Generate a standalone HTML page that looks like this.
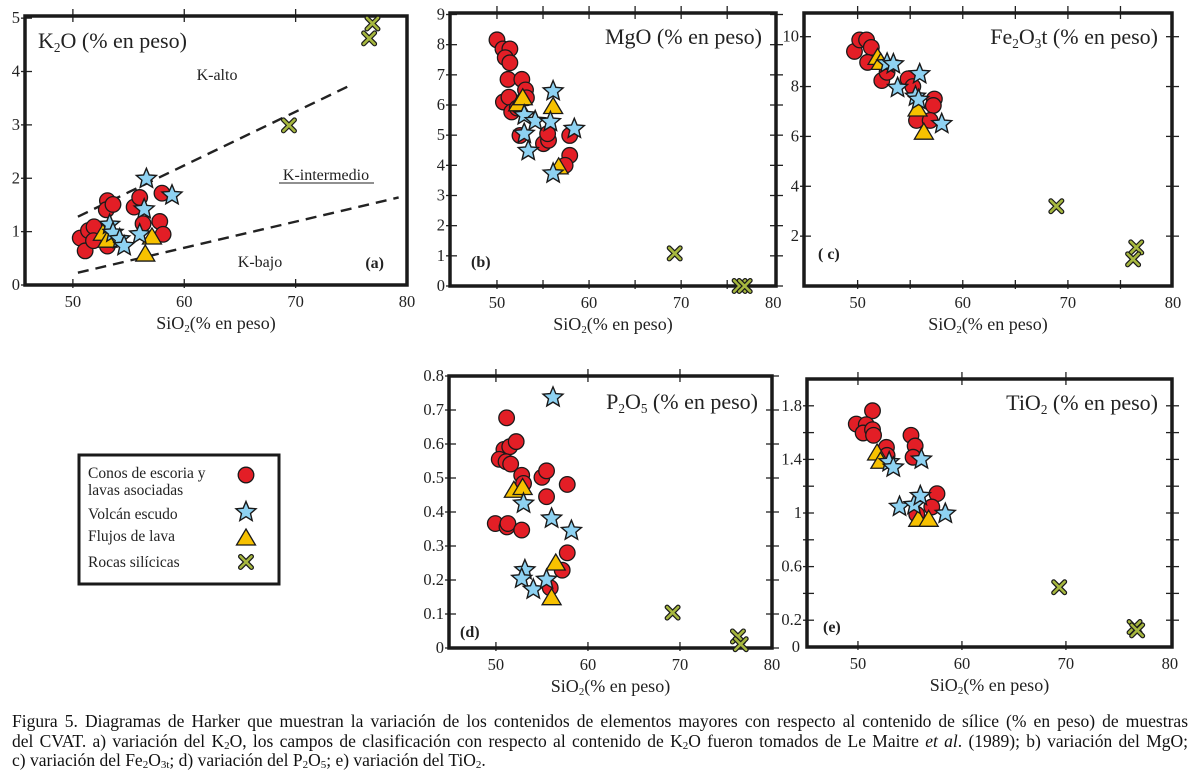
<!DOCTYPE html>
<html><head><meta charset="utf-8">
<style>
html,body{margin:0;padding:0;background:#fff;}
body{width:1196px;height:783px;overflow:hidden;position:relative;font-family:"Liberation Serif",serif;}
#cap{position:absolute;left:12px;top:712px;width:1176px;font-size:17.5px;line-height:19.5px;color:#111;}
#cap div{white-space:nowrap;}
#cap .j{text-align:justify;text-align-last:justify;white-space:normal;}
sub{font-size:11px;vertical-align:-2px;line-height:0;}
</style></head><body>
<svg id="fig" width="1196" height="710" style="position:absolute;left:0;top:0" xmlns="http://www.w3.org/2000/svg" font-family="Liberation Serif, serif"></svg>
<div id="cap">
<div class="j">Figura 5. Diagramas de Harker que muestran la variación de los contenidos de elementos mayores con respecto al contenido de sílice (% en peso) de muestras</div>
<div class="j">del CVAT. a) variación del K<sub>2</sub>O, los campos de clasificación con respecto al contenido de K<sub>2</sub>O fueron tomados de Le Maitre <i>et al</i>. (1989); b) variación del MgO;</div>
<div>c) variación del Fe<sub>2</sub>O<sub>3t</sub>; d) variación del P<sub>2</sub>O<sub>5</sub>; e) variación del TiO<sub>2</sub>.</div>
</div>
<script>
// ---- Panel (a) K2O
const aCircX=[50.66,51.1,51.4,51.9,51.85,53.1,53.0,53.6,53.1,55.5,56.0,56.3,58.0,57.8,58.1];
const aCircY=[0.88,0.64,1.02,1.09,0.83,1.58,1.41,1.51,0.73,1.46,1.64,1.15,1.72,1.19,0.95];
const aStarX=[56.6,58.9,56.4,53.3,53.6,54.2,54.6,56.0];
const aStarY=[1.99,1.68,1.42,1.13,0.98,0.86,0.73,0.95];
const aTriX=[52.7,53.1,57.1,56.5];
const aTriY=[0.97,0.84,0.9,0.58];
const aCrossX=[76.9,76.6,69.4];
const aCrossY=[4.9,4.62,2.99];
const aUpperLineX=[50.45,74.8], aUpperLineY=[1.28,3.73];
const aLowerLineX=[50.45,79.25], aLowerLineY=[0.23,1.64];
const aYTicks=[0,1,2,3,4,5];
// ---- Panel (b) MgO
const bCircX=[50.0,50.65,51.4,50.9,51.4,51.2,52.7,53.1,53.2,50.7,51.3,51.6,52.5,55.05,55.6,55.5,57.9,57.9,57.4,52.2];
const bCircY=[8.16,7.86,7.86,7.57,7.4,6.85,6.85,6.5,6.24,6.1,6.26,5.77,4.99,4.72,4.83,5.05,4.99,4.33,4.0,5.9];
const bStarX=[56.1,52.96,54.15,55.8,58.4,52.96,53.4,56.1];
const bStarY=[6.46,5.66,5.47,5.44,5.21,5.05,4.48,3.73];
const bTriX=[52.3,52.8,56.1,56.7];
const bTriY=[6.04,6.24,5.95,3.95];
const bCrossX=[69.3,76.35,76.9];
const bCrossY=[1.08,0,0];
const bYTicks=[0,1,2,3,4,5,6,7,8,9];
// ---- Panel (c) Fe2O3t
const cCircX=[49.7,50.2,50.85,51.3,50.95,52.3,52.8,54.8,55.25,57.3,57.2,55.6,56.9];
const cCircY=[9.41,9.87,9.87,9.57,8.97,8.24,8.57,8.31,8.0,7.5,7.24,6.64,6.64];
const cStarX=[52.8,53.4,55.9,53.8,55.5,55.8,58.0];
const cStarY=[8.93,8.9,8.5,7.95,7.6,7.47,6.5];
const cTriX=[51.9,52.2,55.7,56.3];
const cTriY=[9.17,8.97,7.1,6.17];
const cCrossX=[68.9,76.5,76.2];
const cCrossY=[3.2,1.55,1.07];
const cYTicks=[2,4,6,8,10];
// ---- Panel (d) P2O5
const dCircX=[51.16,50.87,51.5,52.2,50.36,51.1,51.6,52.8,53.0,55.0,55.5,55.5,57.75,49.93,51.2,51.3,52.8,57.75,57.2,55.9];
const dCircY=[0.677,0.584,0.592,0.607,0.555,0.548,0.541,0.508,0.484,0.502,0.521,0.445,0.481,0.366,0.356,0.366,0.347,0.28,0.229,0.177];
const dStarX=[56.2,53.0,56.05,58.2,53.15,52.8,54.06,55.5];
const dStarY=[0.737,0.425,0.381,0.345,0.229,0.204,0.172,0.201];
const dTriX=[51.95,52.9,56.5,56.05];
const dTriY=[0.464,0.472,0.25,0.148];
const dCrossX=[69.2,76.3,76.6];
const dCrossY=[0.104,0.034,0.011];
const dYTicks=[0,0.1,0.2,0.3,0.4,0.5,0.6,0.7,0.8];
// ---- Panel (e) TiO2
const eCircX=[51.4,49.84,50.8,50.5,51.4,51.5,52.74,52.8,55.1,55.5,55.3,57.6,57.1,55.65];
const eCircY=[1.763,1.664,1.659,1.597,1.622,1.58,1.49,1.43,1.58,1.5,1.416,1.144,1.045,0.99];
const eStarX=[56.1,53.0,53.4,54.0,55.4,56.0,58.4];
const eStarY=[1.40,1.38,1.34,1.047,1.06,1.127,0.995];
const eTriX=[51.84,52.16,55.8,56.8];
const eTriY=[1.448,1.386,0.953,0.953];
const eCrossX=[69.35,76.6,76.85];
const eCrossY=[0.446,0.149,0.124];
const eYTicks=[0.2,0.6,1,1.4,1.8];
const eYMinor=[0.4,0.8,1.2,1.6];
const xTickLabels=[50,60,70,80];

const NS='http://www.w3.org/2000/svg';
const svg=document.getElementById('fig');
function mk(tag,attrs,parent){const e=document.createElementNS(NS,tag);for(const k in attrs)e.setAttribute(k,attrs[k]);(parent||svg).appendChild(e);return e;}
function txt(parent,x,y,str,size,anchor,weight){const t=mk('text',{x:x,y:y,'font-size':size,'text-anchor':anchor||'start','font-weight':weight||'normal',fill:'#222'},parent);t.textContent=str;return t;}
function subTxt(parent,x,y,parts,size,anchor){
  const t=mk('text',{x:x,y:y,'font-size':size,'text-anchor':anchor||'start',fill:'#222'},parent);
  parts.forEach(p=>{const s=mk('tspan',{},t);s.textContent=p[0];if(p[1]){s.setAttribute('font-size',size*0.6);s.setAttribute('dy',size*0.18);} if(p[2])s.setAttribute('dy',-size*0.18);});
  return t;}
function star(cx,cy,R){let p=[];for(let i=0;i<10;i++){const r=i%2?R*0.45:R;const a=-Math.PI/2+i*Math.PI/5;p.push((cx+r*Math.cos(a)).toFixed(1)+','+(cy+r*Math.sin(a)).toFixed(1));}return p.join(' ');}

function panel(id,box,xr,yr,opts){
  const g=mk('g',{});
  
  
  const X=v=>box.l+(v-xr[0])/(xr[1]-xr[0])*(box.r-box.l);
  const Y=v=>box.b-(v-yr[0])/(yr[1]-yr[0])*(box.b-box.t);
  const tg=mk('g',{stroke:'#222','stroke-width':1.3},g);
  
  
  opts.xticks.forEach(v=>{const x=X(v);mk('line',{x1:x,x2:x,y1:box.t-7,y2:box.t+6},tg);mk('line',{x1:x,x2:x,y1:box.b-6,y2:box.b+3},tg);});
  opts.yticks.concat(opts.yminor||[]).forEach(v=>{const y=Y(v);mk('line',{x1:box.l-4,x2:box.l+7,y1:y,y2:y},tg);if(opts.rightTicks)mk('line',{x1:box.r-6,x2:box.r+7,y1:y,y2:y},tg);});
  const fr=mk('rect',{x:box.l,y:box.t,width:box.r-box.l,height:box.b-box.t,fill:'none',stroke:'#1a1a1a','stroke-width':3.5},g);
  
  
  xTickLabels.forEach(v=>{const t=txt(g,X(v),box.b+22,String(v),16.5,'middle');});
  opts.yticks.forEach(v=>{const t=txt(g,box.l-5,Y(v)+5,String(v),16.5,'end');});
  const xt=subTxt(g,(box.l+box.r)/2,box.b+44,[['SiO'],['2',1],['(% en peso)',0,1]],18,'middle');
  
  
  return {g,X,Y};
}
function marks(p,cx,cy,sx,sy,tx,ty,xx,xy){
  cx.forEach((v,i)=>{const c=mk('circle',{cx:p.X(v),cy:p.Y(cy[i]),r:7.8,fill:'#e31e26',stroke:'#1a1a1a','stroke-width':1.3},p.g);});
  tx.forEach((v,i)=>{const x=p.X(v),y=p.Y(ty[i]);const t=mk('polygon',{points:`${x},${y-9} ${x+9.5},${y+7} ${x-9.5},${y+7}`,fill:'#f7c100',stroke:'#1a1a1a','stroke-width':1.3},p.g);});
  sx.forEach((v,i)=>{const s=mk('polygon',{points:star(p.X(v),p.Y(sy[i]),10.5),fill:'#8ed2f2',stroke:'#1a1a1a','stroke-width':1.4},p.g);});
  xx.forEach((v,i)=>{const x=p.X(v),y=p.Y(xy[i]);const cg=mk('g',{},p.g);
    mk('path',{d:`M${x-5.5},${y-5.5}L${x+5.5},${y+5.5}M${x+5.5},${y-5.5}L${x-5.5},${y+5.5}`,stroke:'#1a1a1a','stroke-width':5,'stroke-linecap':'round'},cg);
    mk('path',{d:`M${x-5.5},${y-5.5}L${x+5.5},${y+5.5}M${x+5.5},${y-5.5}L${x-5.5},${y+5.5}`,stroke:'#a7b83f','stroke-width':2.6,'stroke-linecap':'round'},cg);});
}

const pa=panel('a',{l:25,t:16,r:407,b:285},[45.7,80],[0,5.04],{xticks:[50,60,70],yticks:aYTicks});
[[aUpperLineX,aUpperLineY,'upper'],[aLowerLineX,aLowerLineY,'lower']].forEach(L=>{const l=mk('line',{x1:pa.X(L[0][0]),y1:pa.Y(L[1][0]),x2:pa.X(L[0][1]),y2:pa.Y(L[1][1]),stroke:'#222','stroke-width':2.4,'stroke-dasharray':'11,7'},pa.g);});
let t;
t=subTxt(pa.g,38,48,[['K'],['2',1],['O (% en peso)',0,1]],22);
t=txt(pa.g,217,80,'K-alto',16,'middle');
t=txt(pa.g,326,180,'K-intermedio',16,'middle');
mk('line',{x1:279,x2:374,y1:183,y2:183,stroke:'#222','stroke-width':1},pa.g);
t=txt(pa.g,260,267,'K-bajo',16,'middle');
t=txt(pa.g,384,268,'(a)',16,'end','bold');
marks(pa,aCircX,aCircY,aStarX,aStarY,aTriX,aTriY,aCrossX,aCrossY);

const pb=panel('b',{l:450,t:13,r:776,b:286},[44.9,80.3],[0,9.05],{xticks:[50,55,60,65,70,75],yticks:bYTicks,rightTicks:true});
t=txt(pb.g,762,44,'MgO (% en peso)',22,'end');
t=txt(pb.g,471,267,'(b)',16,'start','bold');
marks(pb,bCircX,bCircY,bStarX,bStarY,bTriX,bTriY,bCrossX,bCrossY);

const pc=panel('c',{l:804,t:13,r:1172,b:286},[44.9,79.9],[0,10.95],{xticks:[50,55,60,65,70,75],yticks:cYTicks,rightTicks:true});
t=subTxt(pc.g,1158,44,[['Fe'],['2',1],['O',0,1],['3',1],['t (% en peso)',0,1]],22,'end');
t=txt(pc.g,818,259,'( c)',16,'start','bold');
marks(pc,cCircX,cCircY,cStarX,cStarY,cTriX,cTriY,cCrossX,cCrossY);

const pd=panel('d',{l:449,t:376,r:772,b:648},[44.9,80],[0,0.8],{xticks:[50,60,70],yticks:dYTicks,rightTicks:true});
t=subTxt(pd.g,758,409,[['P'],['2',1],['O',0,1],['5',1],[' (% en peso)',0,1]],22,'end');
t=txt(pd.g,460,637,'(d)',16,'start','bold');
marks(pd,dCircX,dCircY,dStarX,dStarY,dTriX,dTriY,dCrossX,dCrossY);

const pe=panel('e',{l:807,t:379,r:1172,b:647},[45.1,80.2],[0,2.0],{xticks:[50,60,70],yticks:eYTicks,yminor:eYMinor,rightTicks:true});
t=txt(pe.g,800,652,'0',16.5,'end');
t=subTxt(pe.g,1158,410,[['TiO'],['2',1],[' (% en peso)',0,1]],22,'end');
t=txt(pe.g,823,632,'(e)',16,'start','bold');
marks(pe,eCircX,eCircY,eStarX,eStarY,eTriX,eTriY,eCrossX,eCrossY);

const lg=mk('g',{});


mk('rect',{x:79,y:455,width:200,height:129,fill:'#fff',stroke:'#1a1a1a','stroke-width':3},lg);
const legItems=[['Conos de escoria y',478],['lavas asociadas',495],['Volcán escudo',519],['Flujos de lava',541],['Rocas silícicas',567]];
legItems.forEach(it=>{t=txt(lg,88,it[1],it[0],15.5);});
const lp={g:lg,X:v=>v,Y:v=>v};
marks(lp,[246],[475],[246],[512],[246],[538],[246],[562]);
</script>
</body></html>
